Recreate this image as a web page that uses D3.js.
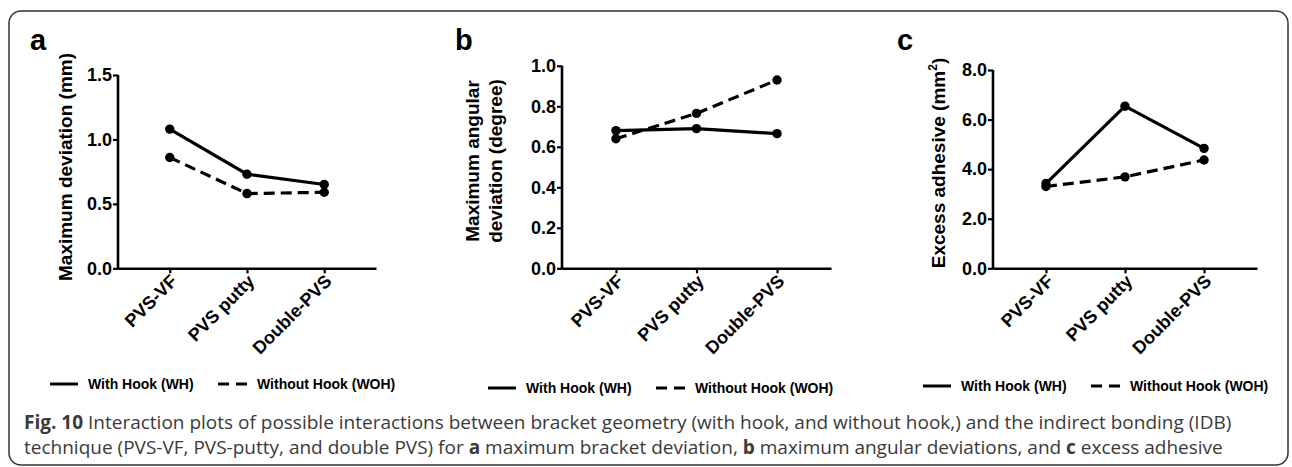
<!DOCTYPE html>
<html>
<head>
<meta charset="utf-8">
<script src="https://cdn.jsdelivr.net/npm/d3@7"></script>
<style>
  body { margin: 0; background: #fff; }
  text { font-family: "Liberation Sans", Arial, sans-serif; }
</style>
</head>
<body>
<div id="chart-area"></div>
<script>
const FIGURE = { WIDTH: 1292, HEIGHT: 467 };

// data
const categories = ["PVS-VF", "PVS putty", "Double-PVS"];
const seriesNames = ["With Hook (WH)", "Without Hook (WOH)"];
const deviationWH = [1.08, 0.73, 0.65];
const deviationWOH = [0.86, 0.58, 0.59];
const angularWH = [0.68, 0.69, 0.665];
const angularWOH = [0.64, 0.765, 0.93];
const adhesiveWH = [3.42, 6.54, 4.84];
const adhesiveWOH = [3.30, 3.69, 4.37];
const deviationTicks = [0, 0.5, 1.0, 1.5];
const angularTicks = [0, 0.2, 0.4, 0.6, 0.8, 1.0];
const adhesiveTicks = [0, 2, 4, 6, 8];

// panel layout
const PANELS = [
    { letter: "a", lx: 30, axisX: 118, axisEnd: 376, top: 75, max: 1.5, ticks: deviationTicks,
      wh: deviationWH, woh: deviationWOH, labelX: 65, labelY: 167, label: ["Maximum deviation (mm)"],
      legendX: 50, legendY: 384 },
    { letter: "b", lx: 455, axisX: 562, axisEnd: 831, top: 65.8, max: 1.0, ticks: angularTicks,
      wh: angularWH, woh: angularWOH, labelX: 472, labelY: 161, label: ["Maximum angular", "deviation (degree)"],
      legendX: 488, legendY: 388 },
    { letter: "c", lx: 897, axisX: 993, axisEnd: 1257, top: 70, max: 8, ticks: adhesiveTicks,
      wh: adhesiveWH, woh: adhesiveWOH, labelX: 938, labelY: 163, label: null,
      legendX: 923, legendY: 386 }
];
const BOTTOM = 268.3;

let svg = d3.select("#chart-area")
    .append("svg")
        .attr("width", FIGURE.WIDTH)
        .attr("height", FIGURE.HEIGHT);

// rounded frame around figure + caption
svg.append("rect")
    .attr("x", 9).attr("y", 11)
    .attr("width", 1279).attr("height", 454)
    .attr("rx", 12)
    .attr("fill", "none")
    .attr("stroke", "#333")
    .attr("stroke-width", 1.5);

PANELS.forEach(p => {
    let x = d3.scalePoint()
        .domain(categories)
        .range([p.axisX, p.axisEnd])
        .padding(0.67);

    let y = d3.scaleLinear()
        .domain([0, p.max])
        .range([BOTTOM, p.top]);

    let g = svg.append("g");

    // panel letter
    g.append("text")
        .attr("x", p.lx).attr("y", 50)
        .attr("font-size", 29).attr("font-weight", "bold")
        .text(p.letter);

    // y axis
    let yAxis = d3.axisLeft(y)
        .tickValues(p.ticks)
        .tickFormat(d3.format(".1f"))
        .tickSize(5)
        .tickSizeOuter(0);
    let ya = g.append("g")
        .attr("transform", `translate(${p.axisX},0)`)
        .call(yAxis);
    ya.selectAll("text")
        .attr("font-size", 18).attr("font-weight", "bold")
        .attr("font-family", "Liberation Sans, Arial, sans-serif")
        .attr("fill", "#000")
        .attr("x", -6);

    // x axis
    let xAxis = d3.axisBottom(x)
        .tickSize(5)
        .tickSizeOuter(0);
    let xa = g.append("g")
        .attr("transform", `translate(0,${BOTTOM})`)
        .call(xAxis);
    xa.selectAll("text")
        .attr("font-size", 18).attr("font-weight", "bold")
        .attr("font-family", "Liberation Sans, Arial, sans-serif")
        .attr("fill", "#000")
        .attr("text-anchor", "end")
        .attr("x", 0).attr("y", 0).attr("dy", 0)
        .attr("transform", "translate(8,14) rotate(-45)");

    [ya, xa].forEach(a => {
        a.select(".domain").attr("stroke", "#000").attr("stroke-width", 2.6);
        a.selectAll(".tick line").attr("stroke", "#000").attr("stroke-width", 2.2);
    });
    // extend y-axis line over the x-axis corner
    ya.select(".domain").attr("d", `M0,${p.top}V${BOTTOM + 1.3}`);

    // y label
    let lab = g.append("text")
        .attr("transform", `translate(${p.labelX},${p.labelY}) rotate(-90)`)
        .attr("text-anchor", "middle")
        .attr("font-size", 19).attr("font-weight", "bold");
    if (p.label) {
        p.label.forEach((t, i) => {
            lab.append("tspan")
                .attr("x", 0)
                .attr("dy", i === 0 ? "0.35em" : "1.22em")
                .text(t);
        });
    } else {
        lab.attr("dy", "0.35em");
        lab.append("tspan").text("Excess adhesive (mm");
        lab.append("tspan").attr("font-size", 12).attr("dy", -8).text("2");
        lab.append("tspan").attr("dy", 8).text(")");
    }

    // series lines + points
    let line = d3.line()
        .x((d, i) => x(categories[i]))
        .y(d => y(d));

    [p.wh, p.woh].forEach((vals, si) => {
        g.append("path")
            .datum(vals)
            .attr("d", line)
            .attr("fill", "none")
            .attr("stroke", "#000")
            .attr("stroke-width", 3.2)
            .attr("stroke-dasharray", si === 1 ? "11,6" : null);
        g.selectAll(null)
            .data(vals)
            .enter()
            .append("circle")
                .attr("cx", (d, i) => x(categories[i]))
                .attr("cy", d => y(d))
                .attr("r", 4.7)
                .attr("fill", "#000");
    });

    // legend
    let lg = g.append("g")
        .attr("transform", `translate(${p.legendX},${p.legendY})`);
    lg.append("line")
        .attr("x1", 0).attr("x2", 28).attr("y1", 0).attr("y2", 0)
        .attr("stroke", "#000").attr("stroke-width", 3);
    lg.append("text")
        .attr("x", 38).attr("y", 5)
        .attr("font-size", 14).attr("font-weight", "bold")
        .text(seriesNames[0]);
    lg.append("line")
        .attr("x1", 168).attr("x2", 197).attr("y1", 0).attr("y2", 0)
        .attr("stroke", "#000").attr("stroke-width", 3)
        .attr("stroke-dasharray", "11,7");
    lg.append("text")
        .attr("x", 207).attr("y", 5)
        .attr("font-size", 14).attr("font-weight", "bold")
        .text(seriesNames[1]);
});

// caption
let cap = svg.append("g")
    .attr("font-size", 19)
    .attr("fill", "#3a3a3a");
let l1 = cap.append("text").attr("x", 24).attr("y", 429)
    .style("font-family", "'Open Sans', sans-serif");
l1.append("tspan").attr("font-weight", "bold").text("Fig. 10");
l1.append("tspan").text(" Interaction plots of possible interactions between bracket geometry (with hook, and without hook,) and the indirect bonding (IDB)");
let l2 = cap.append("text").attr("x", 24).attr("y", 454)
    .style("font-family", "'Open Sans', sans-serif");
l2.append("tspan").text("technique (PVS-VF, PVS-putty, and double PVS) for ");
l2.append("tspan").attr("font-weight", "bold").text("a");
l2.append("tspan").text(" maximum bracket deviation, ");
l2.append("tspan").attr("font-weight", "bold").text("b");
l2.append("tspan").text(" maximum angular deviations, and ");
l2.append("tspan").attr("font-weight", "bold").text("c");
l2.append("tspan").text(" excess adhesive");
</script>
</body>
</html>
